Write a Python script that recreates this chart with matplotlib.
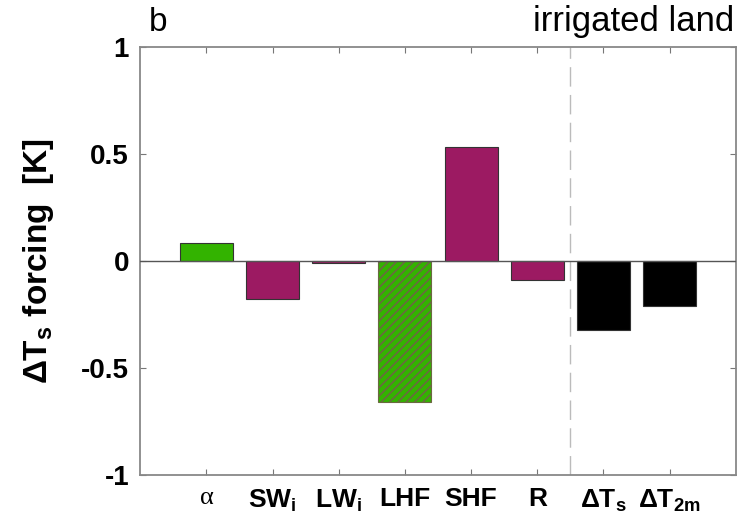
import matplotlib
matplotlib.use("Agg")
import matplotlib.pyplot as plt
import numpy as np

categories = ["α", "SW$_\\mathrm{i}$", "LW$_\\mathrm{i}$", "LHF", "SHF", "R",
              "ΔT$_\\mathrm{s}$", "ΔT$_\\mathrm{2m}$"]
values = [0.083, -0.18, -0.012, -0.66, 0.53, -0.087, -0.322, -0.21]
colors = ["#33b300", "#9c1a62", "#9c1a62", "#33b300", "#9c1a62", "#9c1a62", "#000000", "#000000"]
hatched = [False, False, False, True, False, False, False, False]
yticks = [-1, -0.5, 0, 0.5, 1]
ytick_labels = ["-1", "-0.5", "0", "0.5", "1"]

plt.rcParams['mathtext.fontset'] = 'custom'
plt.rcParams['mathtext.rm'] = 'Liberation Sans:bold'
plt.rcParams['mathtext.bf'] = 'Liberation Sans:bold'
plt.rcParams['hatch.linewidth'] = 1.2

fig = plt.figure(figsize=(7.38, 5.26), dpi=100)
ax = fig.add_axes([0.19, 0.097, 0.807, 0.814])

x = np.arange(1, len(values) + 1)
for xi, v, c, h in zip(x, values, colors, hatched):
    if h:
        ax.bar(xi, v, width=0.8, color=c, edgecolor="#6a6a40", hatch="////", linewidth=0.8, zorder=2)
    else:
        ax.bar(xi, v, width=0.8, color=c, edgecolor="#333333", linewidth=0.8, zorder=2)

ax.axhline(0, color="#555555", linewidth=1.0, zorder=3)
ax.axvline(6.5, color="#bbbbbb", linewidth=1.0, linestyle=(0, (14, 6)), zorder=1)

ax.set_xlim(0, 9)
ax.set_ylim(-1, 1)
ax.set_xticks(x)
ax.set_xticklabels(categories, fontsize=19, fontweight='bold', family='Liberation Sans')
ax.get_xticklabels()[0].set_family('Liberation Serif')
ax.get_xticklabels()[0].set_fontweight('normal')
ax.set_yticks(yticks)
ax.set_yticklabels(ytick_labels, fontsize=20, fontweight='bold', family='Liberation Sans')

ax.tick_params(direction='in', length=4, color='#777777', top=True, right=True)
ax.tick_params(axis='x', pad=9)
ax.tick_params(axis='y', pad=8)
for s in ax.spines.values():
    s.set_color('#888888')
    s.set_linewidth(1.3)

ax.set_ylabel("ΔT$_\\mathrm{s}$ forcing  [K]", fontsize=24, fontweight='bold',
              family='Liberation Sans', labelpad=18)

ax.text(0.015, 1.02, "b", transform=ax.transAxes, fontsize=24, family='Liberation Sans',
        ha='left', va='bottom')
ax.text(0.997, 1.02, "irrigated land", transform=ax.transAxes, fontsize=25,
        family='Liberation Sans', ha='right', va='bottom')

fig.savefig("out.png", dpi=100)
